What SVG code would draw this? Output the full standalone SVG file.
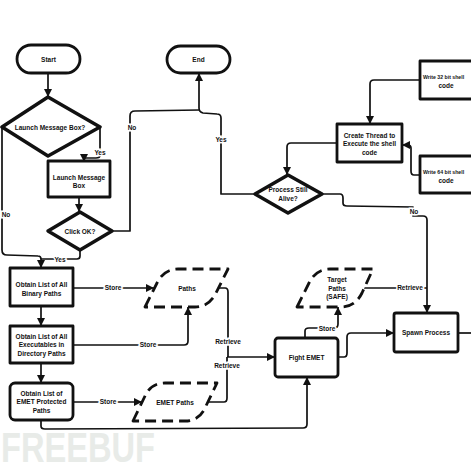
<svg xmlns="http://www.w3.org/2000/svg" width="471" height="471" viewBox="0 0 471 471">
<style>
.n{fill:#fff;stroke:#111;stroke-width:2.8;stroke-linejoin:round}
.d{fill:#fff;stroke:#111;stroke-width:3.5;stroke-linejoin:round}
.s{fill:#fff;stroke:#111;stroke-width:2.8;stroke-dasharray:11 6;stroke-linejoin:round}
.c{fill:none;stroke:#111;stroke-width:1.7;stroke-linejoin:round}
.a{marker-end:url(#ah)}
text{font-family:"Liberation Sans",Arial,sans-serif;font-weight:bold;font-size:6.5px;fill:#111;text-anchor:middle}
.l{stroke:#fff;stroke-width:3;paint-order:stroke}
.w{font-size:42px;text-anchor:start}
.ws{text-anchor:start;font-size:5.2px}
</style>
<defs>
<marker id="ah" viewBox="0 0 10 10" refX="10" refY="5" markerWidth="8" markerHeight="8" markerUnits="userSpaceOnUse" orient="auto">
<path d="M0,0 L10,5 L0,10 z" fill="#111"/>
</marker>
</defs>
<rect width="471" height="471" fill="#fff"/>
<g id="watermark">
<text class="w" x="1" y="462" textLength="154" lengthAdjust="spacingAndGlyphs" style="fill:#e8ebe8">FREEBUF</text>
</g>
<g id="connectors">
<path class="c a" d="M48,73 L48,97"/>
<path class="c a" d="M100,127 L100,155 Q100,158 96,158 L84,158 L84,162"/>
<path class="c a" d="M79,197 L79,212"/>
<path class="c" d="M112,231 L130,231 L130,116 Q130,111 135,111 L199,110"/>
<path class="c a" d="M255,194 L221,194 L221,118 Q221,114 217,114 L203,113 Q199,112 199,108 L199,73"/>
<path class="c a" d="M2,127 L2,250 Q2,255 7,255 L38,256 Q41,256 41,259 L41,268"/>
<path class="c" d="M80,250 L80,256 Q80,259 77,259 L41,259"/>
<path class="c a" d="M41,306 L41,326"/>
<path class="c a" d="M41,363 L41,383"/>
<path class="c a" d="M73,288 L154,288"/>
<path class="c a" d="M73,345 L184,345 Q188,345 188,341 L188,307"/>
<path class="c a" d="M73,402 L142,402"/>
<path class="c a" d="M41,420 L41,426 Q41,429 45,429 L303,428 Q307,428 307,424 L307,377"/>
<path class="c" d="M219,288 L225,288 Q228,288 228,292 L228,357"/>
<path class="c" d="M208,402 L224,402 Q227,402 227,398 L227,357"/>
<path class="c a" d="M227,357 L275,357"/>
<path class="c a" d="M305,338 L305,331 Q305,328 309,328 L334,328 Q338,328 338,324 L338,307"/>
<path class="c a" d="M338,357 L344,357 Q347,357 347,353 L347,337 Q347,333 351,333 L394,333"/>
<path class="c" d="M458,333 L471,333"/>
<path class="c" d="M364,288 L427,288"/>
<path class="c a" d="M322,194 L340,194 Q343,194 343,198 L343,203 Q343,206 347,206 L413,207 L413,216 L423,216 Q427,216 427,220 L427,313"/>
<path class="c a" d="M420,80 L374,80 Q370,80 370,84 L370,124"/>
<path class="c a" d="M420,175 L414,175 Q411,175 411,171 L411,148 Q411,145 408,145 L402,145"/>
<path class="c a" d="M337,143 L291,143 Q287,143 287,147 L287,175"/>
<text class="l" x="100" y="155">Yes</text>
<text class="l" x="132" y="130">No</text>
<text class="l" x="221" y="142">Yes</text>
<text class="l" x="6" y="217">No</text>
<text class="l" x="60" y="262">Yes</text>
<text class="l" x="113" y="290">Store</text>
<text class="l" x="148" y="347">Store</text>
<text class="l" x="108" y="404">Store</text>
<text class="l" x="228" y="344">Retrieve</text>
<text class="l" x="227" y="368">Retrieve</text>
<text class="l" x="327" y="331">Store</text>
<text class="l" x="410" y="290">Retrieve</text>
<text class="l" x="414" y="214">No</text>
</g>
<g id="start"><rect class="n" x="17" y="45" width="63" height="28" rx="14"/><text x="48.5" y="61.5">Start</text></g>
<g id="end"><rect class="n" x="167" y="46" width="63" height="27" rx="13.5"/><text x="198.5" y="62">End</text></g>
<g id="launch-q"><polygon class="d" points="2,127 48,97 100,127 48,156"/><text x="50" y="129.5">Launch Message Box?</text></g>
<g id="launch-box"><rect class="n" x="48" y="161" width="62" height="36"/><text x="79" y="179.5">Launch Message</text><text x="79" y="188">Box</text></g>
<g id="click-ok"><polygon class="d" points="48,231 80,212 112,231 80,250"/><text x="80" y="233.5">Click OK?</text></g>
<g id="binary"><rect class="n" x="10" y="268" width="63" height="38"/><text x="41.5" y="286.5">Obtain List of All</text><text x="41.5" y="295.5">Binary Paths</text></g>
<g id="executables"><rect class="n" x="10" y="326" width="63" height="37"/><text x="41.5" y="338.5">Obtain List of All</text><text x="41.5" y="347">Executables in</text><text x="41.5" y="355.5">Directory Paths</text></g>
<g id="emet-protected"><rect class="n" x="10" y="383" width="63" height="37" rx="5"/><text x="41.5" y="395.5">Obtain List of</text><text x="41.5" y="404">EMET Protected</text><text x="41.5" y="412.5">Paths</text></g>
<g id="paths"><path class="s" d="M145,307 L157,283 Q164,269 178,269 L228,269 L216,293 Q209,307 195,307 Z"/><text x="187" y="290.5">Paths</text></g>
<g id="emet-paths"><path class="s" d="M133,421 L145,396 Q151,383 165,383 L217,383 L205,408 Q199,421 185,421 Z"/><text x="175" y="404.5">EMET Paths</text></g>
<g id="target-paths"><path class="s" d="M297,307 L309,283 Q316,269 330,269 L373,269 L362,293 Q355,307 341,307 Z"/><text x="337" y="282">Target</text><text x="337" y="290.5">Paths</text><text x="337" y="299">(SAFE)</text></g>
<g id="fight-emet"><rect class="n" x="275" y="338" width="63" height="39" rx="3"/><text x="306.5" y="359.5">Fight EMET</text></g>
<g id="spawn"><rect class="n" x="394" y="313" width="64" height="39" rx="2"/><text x="426" y="335">Spawn Process</text></g>
<g id="process-alive"><polygon class="d" points="255,194 288,175 322,194 288,213"/><text x="288" y="191.5">Process Still</text><text x="288" y="200.5">Alive?</text></g>
<g id="create-thread"><rect class="n" x="337" y="124" width="65" height="38"/><text x="369.5" y="137.5">Create Thread to</text><text x="369.5" y="146">Execute the shell</text><text x="369.5" y="154.5">code</text></g>
<g id="write32"><rect class="n" x="420" y="61" width="80" height="38"/><text class="ws" x="423" y="78.5">Write 32 bit shell</text><text x="446" y="87.5">code</text></g>
<g id="write64"><rect class="n" x="420" y="156" width="80" height="37"/><text class="ws" x="423" y="173.5">Write 64 bit shell</text><text x="446" y="182.5">code</text></g>
</svg>
